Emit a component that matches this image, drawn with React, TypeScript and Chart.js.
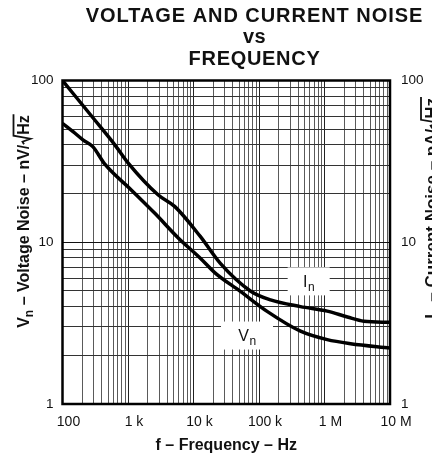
import React, { useEffect, useRef } from 'react';
import { Chart, registerables } from 'chart.js';

Chart.register(...registerables);

const FONT = '"Liberation Sans", Arial, Helvetica, sans-serif';

// I_n (current noise, pA/√Hz) vs frequency
const inFreq = [100, 300, 630, 1000, 2900, 5200, 12600, 25700, 73800, 150000, 430000, 1100000, 2240000, 4000000, 10000000];
const inNoise = [100, 58, 40, 31, 19.6, 16.6, 10.9, 7.4, 5.0, 4.4, 4.0, 3.75, 3.45, 3.25, 3.2];

// V_n (voltage noise, nV/√Hz) vs frequency
const vnFreq = [100, 145, 205, 290, 440, 1130, 2570, 5900, 12600, 21500, 51900, 133000, 430000, 1100000, 2500000, 10000000];
const vnNoise = [54.4, 48.3, 43, 39, 30.5, 21, 15.1, 10.6, 8.0, 6.45, 4.97, 3.74, 2.82, 2.5, 2.36, 2.22];

// tick labels
const xLabelValues = [100, 1000, 10000, 100000, 1000000, 10000000];
const xLabels = ['100', '1 k', '10 k', '100 k', '1 M', '10 M'];
const yLabelValues = [1, 10, 100];
const yLabels = ['1', '10', '100'];

const titleLines = ['VOLTAGE AND CURRENT NOISE', 'vs', 'FREQUENCY'];
const xTitle = 'f – Frequency – Hz';

// annotation anchors (data coordinates)
const inLabelAt = [573000, 5.73];
const vnLabelAt = [65600, 2.65];

function logGrid(minExp: number, maxExp: number): number[] {
  const out: number[] = [];
  for (let e = minExp; e < maxExp; e++) {
    for (let m = 1; m <= 9; m++) out.push(m * Math.pow(10, e));
  }
  out.push(Math.pow(10, maxExp));
  return out;
}

function isDecade(v: number): boolean {
  const l = Math.log10(v);
  return Math.abs(l - Math.round(l)) < 1e-9;
}

function labelFor(v: number, vals: number[], labels: string[]): string {
  for (let i = 0; i < vals.length; i++) {
    if (Math.abs(v - vals[i]) / vals[i] < 1e-6) return labels[i];
  }
  return '';
}

type Seg = { t?: string; size?: number; dy?: number; radical?: boolean };

function measureSegs(ctx: CanvasRenderingContext2D, segs: Seg[], bold: boolean): number {
  let w = 0;
  for (const s of segs) {
    if (s.radical) { w += 10; continue; }
    ctx.font = `${bold ? 'bold ' : ''}${s.size}px ${FONT}`;
    w += ctx.measureText(s.t as string).width;
  }
  return w;
}

function drawSegs(ctx: CanvasRenderingContext2D, segs: Seg[], x0: number, bold: boolean, capH: number) {
  let x = x0;
  for (let i = 0; i < segs.length; i++) {
    const s = segs[i];
    if (s.radical) {
      const next = segs[i + 1];
      ctx.font = `${bold ? 'bold ' : ''}${next.size}px ${FONT}`;
      const nw = ctx.measureText(next.t as string).width;
      ctx.beginPath();
      ctx.moveTo(x + 0.5, -5);
      ctx.lineTo(x + 3, -6.5);
      ctx.lineTo(x + 6, 1.5);
      ctx.lineTo(x + 9, -capH - 4);
      ctx.lineTo(x + 10 + nw + 1, -capH - 4);
      ctx.lineWidth = 1.8;
      ctx.strokeStyle = '#111';
      ctx.stroke();
      x += 10;
      continue;
    }
    ctx.font = `${bold ? 'bold ' : ''}${s.size}px ${FONT}`;
    ctx.fillText(s.t as string, x, s.dy || 0);
    x += ctx.measureText(s.t as string).width;
  }
}

const leftSegs: Seg[] = [
  { t: 'V', size: 16 },
  { t: 'n', size: 12, dy: 4 },
  { t: ' – Voltage Noise – nV/', size: 16 },
  { radical: true },
  { t: 'Hz', size: 16 },
];
const rightSegs: Seg[] = [
  { t: 'I', size: 17 },
  { t: 'n', size: 12.5, dy: 4 },
  { t: ' – Current Noise – pA/', size: 17 },
  { radical: true },
  { t: 'Hz', size: 17 },
];

function drawBoxLabel(chart: any, at: number[], main: string, w: number, h: number) {
  const { ctx, scales } = chart;
  const cx = scales.x.getPixelForValue(at[0]);
  const cy = scales.y.getPixelForValue(at[1]);
  ctx.save();
  ctx.fillStyle = '#fff';
  ctx.fillRect(cx - w / 2, cy - h / 2, w, h);
  ctx.fillStyle = '#111';
  ctx.textBaseline = 'alphabetic';
  ctx.textAlign = 'left';
  ctx.font = `16px ${FONT}`;
  const mw = ctx.measureText(main).width;
  ctx.font = `12px ${FONT}`;
  const sw = ctx.measureText('n').width;
  const x0 = cx - (mw + sw) / 2;
  const base = cy + 5.5;
  ctx.font = `16px ${FONT}`;
  ctx.fillText(main, x0, base);
  ctx.font = `12px ${FONT}`;
  ctx.fillText('n', x0 + mw + 0.5, base + 4);
  ctx.restore();
}

const decor = {
  id: 'decor',
  beforeDatasetsDraw(chart: any) {
    const { ctx, chartArea: a } = chart;
    drawBoxLabel(chart, inLabelAt, 'I', 42, 28);
    drawBoxLabel(chart, vnLabelAt, 'V', 52, 28);
    ctx.save();
    ctx.strokeStyle = '#000';
    ctx.lineWidth = 2.5;
    ctx.strokeRect(a.left, a.top, a.right - a.left, a.bottom - a.top);
    ctx.restore();
  },
  afterDraw(chart: any) {
    const { ctx, chartArea: a } = chart;
    ctx.save();
    ctx.fillStyle = '#111';
    // main title
    ctx.textAlign = 'center';
    ctx.textBaseline = 'alphabetic';
    ctx.font = `bold 20px ${FONT}`;
    (ctx as any).letterSpacing = '0.95px';
    ctx.fillText(titleLines[0], 246.5, 13.5);
    (ctx as any).letterSpacing = '0.5px';
    ctx.fillText(titleLines[1], 246.5, 35);
    (ctx as any).letterSpacing = '0.7px';
    ctx.fillText(titleLines[2], 246.5, 57);
    (ctx as any).letterSpacing = '0px';
    // x axis title
    ctx.font = `bold 16px ${FONT}`;
    ctx.fillText(xTitle, (a.left + a.right) / 2, 441.5);
    ctx.textAlign = 'left';
    // left y axis title
    const lw = measureSegs(ctx, leftSegs, true);
    ctx.save();
    ctx.translate(21, 213.5);
    ctx.rotate(-Math.PI / 2);
    drawSegs(ctx, leftSegs, -lw / 2, true, 11.5);
    ctx.restore();
    // right y axis title (partly outside the canvas)
    const rw = measureSegs(ctx, rightSegs, true);
    ctx.save();
    ctx.translate(429.2, 90 + rw / 2);
    ctx.rotate(-Math.PI / 2);
    drawSegs(ctx, rightSegs, -rw / 2, true, 12.2);
    ctx.restore();
    ctx.restore();
  },
};

export default function App() {
  const ref = useRef<HTMLCanvasElement | null>(null);

  useEffect(() => {
    const canvas = ref.current;
    if (!canvas) return;
    const xGrid = logGrid(2, 7);
    const yGrid = logGrid(0, 2);
    const gridColor = (major: string, minor: string) => (c: any) =>
      c.tick && c.tick.major ? major : minor;

    const chart = new Chart(canvas, {
      type: 'line',
      data: {
        datasets: [
          {
            label: 'In',
            data: inFreq.map((f, i) => ({ x: f, y: inNoise[i] })),
            borderColor: '#000',
            borderWidth: 3.5,
            pointRadius: 0,
            fill: false,
            cubicInterpolationMode: 'monotone',
          },
          {
            label: 'Vn',
            data: vnFreq.map((f, i) => ({ x: f, y: vnNoise[i] })),
            borderColor: '#000',
            borderWidth: 3.5,
            pointRadius: 0,
            fill: false,
            cubicInterpolationMode: 'monotone',
          },
        ],
      },
      options: {
        responsive: false,
        animation: false,
        layout: { padding: { top: 72.5, left: 0, right: 0, bottom: 0 } },
        plugins: {
          legend: { display: false },
          tooltip: { enabled: false },
          title: { display: false },
        },
        scales: {
          x: {
            type: 'logarithmic',
            min: 100,
            max: 10000000,
            afterBuildTicks: (s: any) => {
              s.ticks = xGrid.map((v) => ({ value: v, major: isDecade(v) }));
            },
            afterFit: (s: any) => {
              s.height = 50;
            },
            grid: { color: gridColor('#222', '#5a5a5a'), lineWidth: 1, drawTicks: false },
            border: { display: false },
            ticks: {
              autoSkip: false,
              maxRotation: 0,
              minRotation: 0,
              padding: 10,
              labelOffset: 6,
              color: '#111',
              font: { family: FONT, size: 14 },
              callback: (v: any) => labelFor(Number(v), xLabelValues, xLabels),
            },
          },
          y: {
            type: 'logarithmic',
            position: 'left',
            min: 1,
            max: 100,
            afterBuildTicks: (s: any) => {
              s.ticks = yGrid.map((v) => ({ value: v, major: isDecade(v) }));
            },
            afterFit: (s: any) => {
              s.width = 54.5;
            },
            grid: { color: gridColor('#111', '#333'), lineWidth: 1, drawTicks: false },
            border: { display: false },
            ticks: {
              autoSkip: false,
              padding: 9,
              color: '#111',
              font: { family: FONT, size: 13.5 },
              callback: (v: any) => labelFor(Number(v), yLabelValues, yLabels),
            },
          },
          y2: {
            type: 'logarithmic',
            position: 'right',
            min: 1,
            max: 100,
            afterBuildTicks: (s: any) => {
              s.ticks = yGrid.map((v) => ({ value: v, major: isDecade(v) }));
            },
            afterFit: (s: any) => {
              s.width = 42;
            },
            grid: { display: false, drawTicks: false },
            border: { display: false },
            ticks: {
              autoSkip: false,
              padding: 11,
              color: '#111',
              font: { family: FONT, size: 13.5 },
              callback: (v: any) => labelFor(Number(v), yLabelValues, yLabels),
            },
          },
        },
      } as any,
      plugins: [decor],
    });
    return () => chart.destroy();
  }, []);

  return (
    <canvas
      ref={ref}
      width={424}
      height={446}
      style={{ display: 'block', position: 'fixed', left: 8, top: 8, width: 424, height: 446 }}
    />
  );
}
